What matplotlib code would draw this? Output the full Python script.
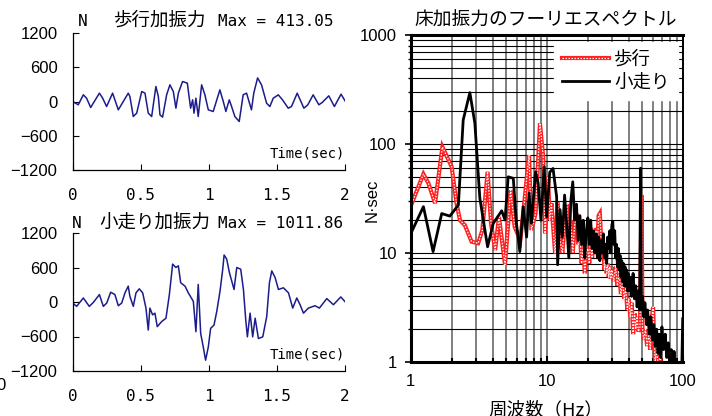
import matplotlib
matplotlib.use('Agg')
import matplotlib.pyplot as plt
from matplotlib.ticker import FixedLocator, NullFormatter, LogLocator

W, H = 712, 416

# walking force (N) vs time (sec)
walk_t = [0, 0.041, 0.078, 0.102, 0.132, 0.196, 0.220, 0.249, 0.293, 0.335, 0.408, 0.420,
          0.445, 0.470, 0.507, 0.531, 0.555, 0.580, 0.611, 0.629, 0.641, 0.660, 0.690, 0.714,
          0.739, 0.758, 0.776, 0.807, 0.842, 0.866, 0.881, 0.891, 0.905, 0.922, 0.947, 0.971,
          0.996, 1.032, 1.081, 1.106, 1.125, 1.150, 1.167, 1.191, 1.223, 1.252, 1.277, 1.313,
          1.330, 1.358, 1.387, 1.424, 1.448, 1.473, 1.510, 1.541, 1.583, 1.607, 1.649, 1.698,
          1.727, 1.766, 1.808, 1.832, 1.881, 1.922, 1.971, 2.0]
walk_f = [0, -58, 117, 58, -105, 146, 58, -88, 146, -146, 146, 88,
          -263, -204, 175, 146, -204, -263, 263, 88, -234, -274, 117, 292,
          175, -117, 146, 350, 321, -117, 29, -204, 58, -263, 292, 117,
          -146, -175, 204, 0, -175, 29, -88, -263, -350, 117, 146, -146,
          146, 413, 292, -29, -88, 58, 117, 29, -117, -88, 146, -117,
          -58, 117, -58, -18, 99, -88, 128, 12]

# running force (N) vs time (sec)
run_t = [0, 0.029, 0.078, 0.122, 0.152, 0.196, 0.225, 0.250, 0.279, 0.310, 0.335, 0.360,
         0.384, 0.408, 0.420, 0.445, 0.465, 0.489, 0.514, 0.538, 0.555, 0.567, 0.587, 0.604,
         0.621, 0.653, 0.685, 0.710, 0.734, 0.758, 0.776, 0.793, 0.825, 0.849, 0.886, 0.905,
         0.922, 0.940, 0.959, 0.976, 0.996, 1.013, 1.038, 1.058, 1.082, 1.102, 1.112, 1.131,
         1.151, 1.168, 1.185, 1.205, 1.234, 1.254, 1.271, 1.283, 1.303, 1.322, 1.340, 1.364,
         1.396, 1.425, 1.445, 1.462, 1.487, 1.511, 1.548, 1.585, 1.616, 1.646, 1.670, 1.695,
         1.731, 1.780, 1.812, 1.866, 1.915, 1.969, 2.0]
run_f = [-18, -76, 70, -76, -6, 129, -76, -18, 170, 129, -65, -18,
         159, 276, 100, -76, 159, 229, 159, -106, -488, -106, -223, -194,
         -429, -341, -282, 129, 659, 600, 629, 335, 276, 159, 12, -517,
         306, -547, -782, -1012, -782, -459, -400, -165, 188, 570, 817, 747,
         512, 365, 218, 600, 570, 218, -312, -606, -194, -606, -282, -635,
         -606, -253, 335, 541, 423, 218, 247, 159, -106, 70, -47, -194,
         -106, -65, -106, 59, -47, 88, 6]

# Fourier spectra (N·sec) vs frequency (Hz)
walk_hz = [1.02, 1.24, 1.35, 1.51, 1.71, 2.0, 2.17, 2.3, 2.5, 2.8, 3.13, 3.36, 3.67, 3.89,
           4.17, 4.45, 4.93, 5.42, 5.8, 6.38, 6.78, 7.4, 7.7, 8.26, 8.9, 9.4, 9.7, 10.2,
           10.5, 10.8, 11.5,
           12.0, 12.5, 13.0, 13.5, 14.0, 14.5, 15.0, 15.5, 16.0, 16.5, 17.0, 17.5, 18.0,
           18.5, 19.0, 19.5, 20.0, 20.5, 21.0, 21.5, 22.0, 22.5, 23.0, 23.5, 24.0, 24.5,
           25.0, 25.5, 26.0, 26.5, 27.0, 27.5, 28.0, 28.5, 29.0, 29.5, 30.0, 31.0, 32.0,
           33.0, 34.0, 35.0, 36.0, 37.0, 38.0, 39.0, 40.0, 41.0, 42.0, 43.0, 44.0, 45.0,
           46.0, 47.0, 48.3, 49.6, 50.4, 51.5, 53.0, 54.5, 56.0, 57.5, 59.0, 60.3, 61.5,
           62.5, 64.0, 66.0, 68.0, 70.0]
walk_amp = [28.6, 53, 43.6, 28.6, 94, 61.7, 28.6, 20, 18, 12.7, 12.3, 16.2, 55.6, 18.7,
            10.6, 21.4, 7.8, 37.8, 17.4, 13.1, 26.6, 79, 16.2, 23, 155, 76, 15.1, 50,
            20, 28.6, 9.9,
            29.5, 13, 10, 18, 28, 14, 20, 10, 18, 23, 12, 15, 8,
            11, 6.5, 10, 11, 8, 15, 9, 17, 10, 16, 12, 22, 23,
            14, 10, 12, 7, 9, 6.5, 8, 6, 7.5, 5.8, 7, 5.5, 7.5,
            5, 6.5, 4.2, 5.5, 3.8, 4.8, 3, 3.8, 2.6, 3.5, 1.8, 2.8, 2,
            2.6, 1.9, 2.1, 34, 2, 1.6, 2, 1.4, 1.8, 1.3, 2.5, 3.2, 1.5,
            1.0, 1.3, 0.9, 1.1, 0.8]
run_hz = [1.0, 1.24, 1.46, 1.69, 1.94, 2.24, 2.43, 2.72, 2.96, 3.22, 3.67, 4.04, 4.66, 4.93,
          5.2, 5.67, 5.98, 6.33, 6.7, 7.1, 7.4, 7.7, 8.26, 8.63, 9.05, 9.56, 9.97, 10.5,
          11.1, 11.8,
          12.0, 12.5, 13.0, 13.5, 14.0, 14.5, 15.0, 15.5, 16.0, 16.5, 17.0, 17.5, 18.0,
          18.5, 19.0, 19.5, 20.0, 20.5, 21.0, 21.5, 22.0, 22.5, 23.0, 23.5, 24.0, 24.5,
          25.0, 25.5, 26.0, 26.5, 27.0, 27.5, 28.0, 28.5, 29.0, 29.5, 30.0, 30.5, 31.0,
          31.5, 32.0, 32.5, 33.0, 33.5, 34.0, 34.5, 35.0, 35.5, 36.0, 36.5, 37.0, 37.5,
          38.0, 38.5, 39.0, 39.5, 40.0, 41.0, 42.0, 43.0, 44.0, 45.0, 46.0, 47.0, 48.0,
          48.8, 49.5, 50.5, 51.5, 52.5, 54.0, 55.0, 56.5, 58.0, 59.5, 61.0, 62.5, 64.0,
          65.5, 67.0, 68.5, 70.0, 72.0, 74.0, 76.0, 78.0, 80.0, 82.0, 84.0, 86.0, 88.0,
          90.0, 93.0, 96.0, 98.0, 99.5]
run_amp = [15, 26.6, 10.3, 23, 21.8, 27.6, 166, 296, 155, 31.8, 11.4, 18.7, 24.4, 20.1,
           50, 48.4, 18.7, 10.3, 26.6, 14, 35.5, 18.7, 55.6, 43.6, 20, 61.7, 21.4, 55,
           59.6, 32.8,
           7.8, 25, 14, 34, 18, 9, 30, 45, 20, 28, 13, 22, 12,
           20, 9, 16, 21, 12, 20, 11, 16, 10, 15, 9, 14, 8.5,
           13, 10, 15, 9, 12, 8, 14, 11, 16, 10, 18, 19.5, 12,
           16, 9, 12, 7.5, 11, 7, 9.5, 6, 8.5, 5.5, 8, 5, 7.5,
           5, 7, 4.5, 6.5, 4.5, 6, 4, 6.5, 3.8, 5, 3.2, 4.5, 3,
           60, 3, 4, 2.6, 3.5, 2.2, 3, 1.8, 2.6, 1.6, 2.2, 1.4, 2,
           1.2, 1.8, 1.1, 2.1, 1.3, 1.8, 1.1, 1.5, 0.95, 1.3, 0.9, 1.25, 0.9,
           0.8, 0.9, 0.85, 0.9, 2.5]

time_ticks = [0, 0.5, 1, 1.5, 2]
time_labels = ['0', '0.5', '1', '1.5', '2']
force_ticks = [-1200, -600, 0, 600, 1200]
force_labels = ['\u22121200', '\u2212600', '0', '600', '1200']

MONO = 'DejaVu Sans Mono'
JP = 'Noto Sans CJK JP'
SANS = 'Liberation Sans'
LINE_BLUE = '#1c1c8c'


def fx(x):
    return x / W


def fy(y):
    return 1 - y / H


def box(l, t, r, b):
    return [fx(l), fy(b), fx(r) - fx(l), fy(t) - fy(b)]


fig = plt.figure(figsize=(W / 100, H / 100), dpi=100)


def force_axes(rect, t, f):
    ax = fig.add_axes(rect)
    ax.plot(t, f, color=LINE_BLUE, lw=1.1)
    ax.set_xlim(0, 2)
    ax.set_ylim(-1200, 1200)
    ax.set_xticks(time_ticks)
    ax.set_xticklabels(time_labels, family=MONO, fontsize=11.5)
    ax.set_yticks(force_ticks)
    ax.set_yticklabels(force_labels, family=SANS, fontsize=12)
    ax.spines['top'].set_visible(False)
    ax.spines['right'].set_visible(False)
    for s in ('left', 'bottom'):
        ax.spines[s].set_linewidth(0.9)
    ax.tick_params(axis='x', direction='in', length=4, pad=13)
    ax.tick_params(axis='y', direction='in', length=4, pad=11)
    ax.text(1.0, 0.12, 'Time(sec)', transform=ax.transAxes, ha='right', va='center',
            family=MONO, fontsize=10)
    return ax


ax1 = force_axes(box(72.7, 33, 345, 170), walk_t, walk_f)
ax2 = force_axes(box(72.7, 233, 345, 371), run_t, run_f)

# panel titles, split so the Latin part stays monospaced
fig.text(fx(78), fy(21), 'N', family=MONO, fontsize=11.5, va='center')
fig.text(fx(114), fy(21), '歩行加振力', family=JP, fontsize=13.3, va='center')
fig.text(fx(218), fy(21), 'Max = 413.05', family=MONO, fontsize=11.5, va='center')
fig.text(fx(72), fy(223), 'N', family=MONO, fontsize=11.5, va='center')
fig.text(fx(99), fy(223), '小走り加振力', family=JP, fontsize=13.3, va='center')
fig.text(fx(218), fy(223), 'Max = 1011.86', family=MONO, fontsize=11.5, va='center')
fig.text(fx(-4), fy(385), '0', family=SANS, fontsize=12, va='center')

# spectrum
ax3 = fig.add_axes(box(410.7, 35, 683, 362))
ax3.set_xscale('log')
ax3.set_yscale('log')
ax3.set_xlim(1, 100)
ax3.set_ylim(1, 1000)
ax3.grid(True, which='both', axis='x', color='#6a6a6a', lw=1.2)
ax3.grid(True, which='both', axis='y', color='black', lw=0.8)
ax3.set_axisbelow(True)

r1, = ax3.plot(walk_hz, walk_amp, color='#ff2020', lw=3.0, solid_joinstyle='miter')
r2, = ax3.plot(walk_hz, walk_amp, color='white', lw=0.9, dashes=(1.2, 1.2))
k1, = ax3.plot(run_hz, run_amp, color='black', lw=2.0)

ax3.xaxis.set_major_locator(FixedLocator([1, 10, 100]))
ax3.xaxis.set_minor_locator(LogLocator(base=10, subs=range(2, 10)))
ax3.xaxis.set_minor_formatter(NullFormatter())
ax3.set_xticklabels(['1', '10', '100'], family=SANS, fontsize=12)
ax3.yaxis.set_major_locator(FixedLocator([1, 10, 100, 1000]))
ax3.yaxis.set_minor_locator(LogLocator(base=10, subs=range(2, 10)))
ax3.yaxis.set_minor_formatter(NullFormatter())
ax3.set_yticklabels(['1', '10', '100', '1000'], family=SANS, fontsize=12)
ax3.tick_params(axis='x', which='major', direction='in', length=4, width=1.5, pad=9)
ax3.tick_params(axis='x', which='minor', direction='in', length=3, width=1.5)
ax3.tick_params(axis='y', which='major', direction='out', length=4, width=1.2, pad=6)
ax3.tick_params(axis='y', which='minor', direction='out', length=2, width=1.0)
for s in ('left', 'bottom', 'top'):
    ax3.spines[s].set_linewidth(2.2)
ax3.spines['right'].set_linewidth(1.4)

leg = ax3.legend([(r1, r2), k1], ['歩行', '小走り'], loc='upper right',
                 bbox_to_anchor=(1 - 5 / 272.3, 1 - 7 / 327), borderaxespad=0,
                 prop={'family': JP, 'size': 13.3}, handlelength=2.5, handletextpad=0.3,
                 labelspacing=0.3, borderpad=0.45, fancybox=False, framealpha=1,
                 edgecolor='white')

fig.text(fx(546), fy(20), '床加振力のフーリエスペクトル', family=JP, fontsize=13.5,
         ha='center', va='center')
fig.text(fx(546), fy(410), '周波数（Hz）', family=JP, fontsize=13.3, ha='center', va='center')
fig.text(fx(372), fy(200), 'N·sec', family=SANS, fontsize=12, rotation=90,
         ha='center', va='center')

fig.savefig('out.png', dpi=100)
